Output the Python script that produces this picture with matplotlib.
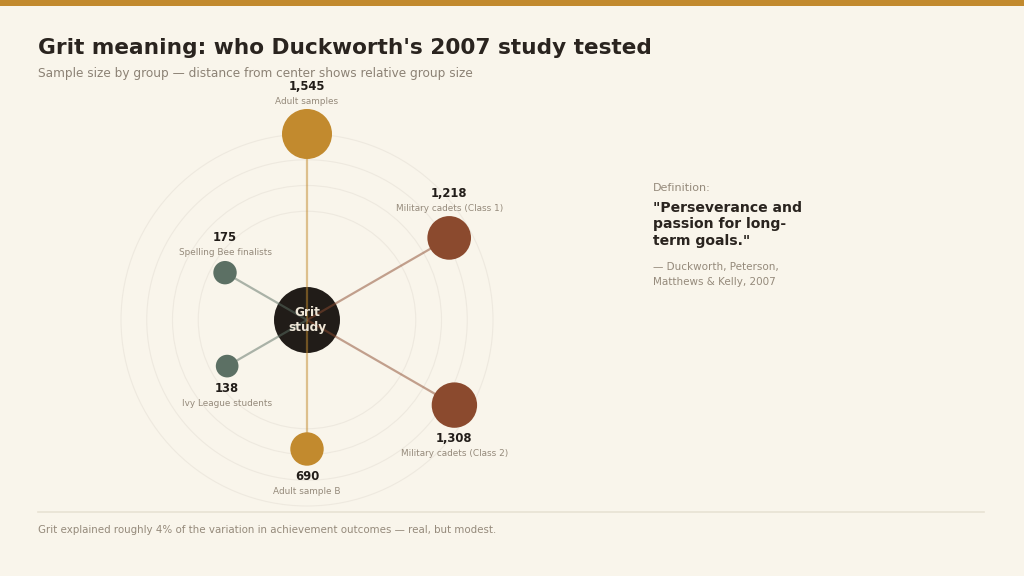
import numpy as np
import matplotlib
matplotlib.use("Agg")
import matplotlib.pyplot as plt
from matplotlib.patches import Circle, Rectangle

# ---- data ----
groups = ["Adult samples", "Military cadets (Class 1)", "Military cadets (Class 2)",
          "Adult sample B", "Ivy League students", "Spelling Bee finalists"]
sizes = [1545, 1218, 1308, 690, 138, 175]
angles_deg = [90, 30, -30, -90, 210, 150]
kinds = ["adult", "military", "military", "adult", "student", "student"]

colors = {"adult": "#C28A2E", "military": "#8B4A2E", "student": "#5C7064"}
BG = "#F9F5EB"
DARK = "#221D19"
GREY = "#958A7B"

W, H = 1024, 576
fig = plt.figure(figsize=(W / 100, H / 100), dpi=100, facecolor=BG)

# axes in pixel units, origin at the hub
cx, cy = 307, 320
ax = fig.add_axes([0, 0, 1, 1])
ax.set_xlim(-cx, W - cx)
ax.set_ylim(-(H - cy), cy)
ax.set_aspect("equal")
ax.axis("off")
ax.set_facecolor(BG)

min_d, max_d = 83, 186
min_r, max_r = 10, 25
nmax = max(sizes)

# rings
for k in range(1, 5):
    ax.add_patch(Circle((0, 0), min_d + (max_d - min_d) * k / 4, fill=False,
                        ec="#EEE9DF", lw=0.8, zorder=1))

# hub
ax.add_patch(Circle((0, 0), 33, fc="#211C18", ec="none", zorder=2))

for g, n, a, kd in zip(groups, sizes, angles_deg, kinds):
    d = min_d + (max_d - min_d) * n / nmax
    r = min_r + (max_r - min_r) * n / nmax
    th = np.deg2rad(a)
    x, y = d * np.cos(th), d * np.sin(th)
    c = colors[kd]
    ax.plot([0, x], [0, y], color=c, alpha=0.5, lw=1.6, zorder=3, solid_capstyle="butt")
    ax.add_patch(Circle((x, y), r, fc=c, ec="none", zorder=4))
    if y > 0:
        ax.text(x, y + r + 23, f"{n:,}", ha="center", va="center", fontsize=8.4,
                fontweight="bold", color=DARK, zorder=6)
        ax.text(x, y + r + 8, g, ha="center", va="center", fontsize=6.4,
                color=GREY, zorder=6)
    else:
        ax.text(x, y - r - 11, f"{n:,}", ha="center", va="center", fontsize=8.4,
                fontweight="bold", color=DARK, zorder=6)
        ax.text(x, y - r - 26, g, ha="center", va="center", fontsize=6.4,
                color=GREY, zorder=6)

ax.text(0, 0, "Grit\nstudy", ha="center", va="center", fontsize=8.7, fontweight="bold",
        color="#EFE7D8", linespacing=1.2, zorder=6)

# top bar
fig.patches.append(Rectangle((0, 1 - 6 / H), 1, 6 / H, transform=fig.transFigure,
                             fc="#C28A2E", ec="none", zorder=0))

# titles
fig.text(38 / W, 1 - 48 / H, "Grit meaning: who Duckworth's 2007 study tested",
         fontsize=15.6, fontweight="bold", color="#2A241F", va="center", ha="left")
fig.text(38 / W, 1 - 74 / H,
         "Sample size by group \u2014 distance from center shows relative group size",
         fontsize=8.7, color="#8C8275", va="center", ha="left")

# definition panel
fig.text(653 / W, 1 - 188 / H, "Definition:", fontsize=8, color=GREY, va="center")
fig.text(653 / W, 1 - 201 / H, "\"Perseverance and\npassion for long-\nterm goals.\"",
         fontsize=10.1, fontweight="bold", color="#2A241F", va="top", linespacing=1.22)
fig.text(653 / W, 1 - 262 / H, "\u2014 Duckworth, Peterson,\nMatthews & Kelly, 2007",
         fontsize=7.5, color=GREY, va="top", linespacing=1.6)

# separator and footer
fig.add_artist(plt.Line2D([38 / W, 984 / W], [1 - 512 / H, 1 - 512 / H],
                          transform=fig.transFigure, color="#E8E2D4", lw=1.2))
fig.text(38 / W, 1 - 530 / H,
         "Grit explained roughly 4% of the variation in achievement outcomes \u2014 real, but modest.",
         fontsize=7.4, color=GREY, va="center")

fig.savefig("out.png", dpi=100, facecolor=BG)
